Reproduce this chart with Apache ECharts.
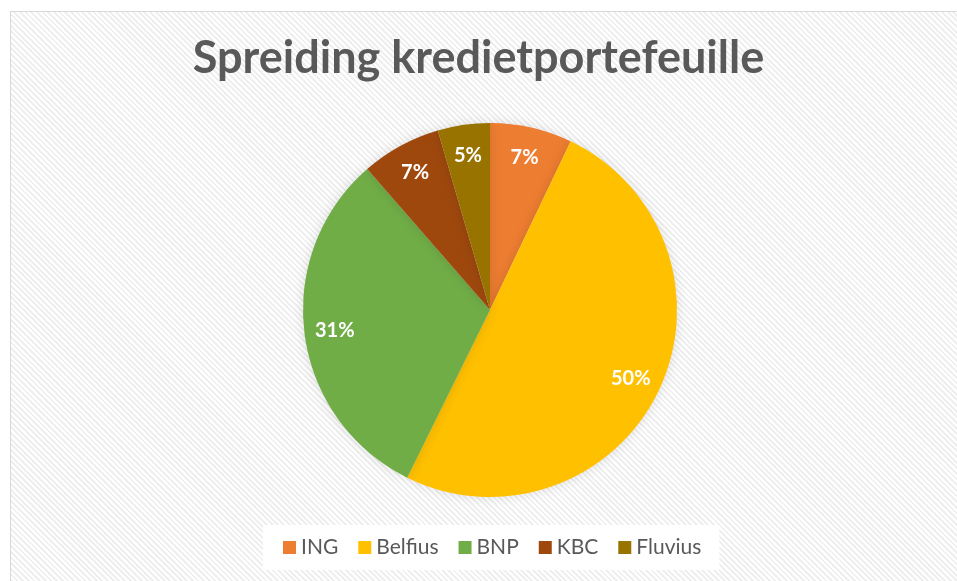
<!DOCTYPE html>
<html>
<head>
<meta charset="utf-8">
<script src="https://cdn.jsdelivr.net/npm/echarts@6/dist/echarts.min.js"></script>
<style>
  html, body { margin: 0; padding: 0; background: #fff; }
  #frame {
    position: absolute; left: 10px; top: 11px; width: 960px; height: 580px;
    border: 1px solid #d9d9d9; box-sizing: border-box;
    background: repeating-linear-gradient(45deg, #ffffff 0px, #ffffff 2px, #efefef 2px, #efefef 4px);
  }
  #chart { position: absolute; left: 0; top: 0; width: 957px; height: 581px; }
</style>
</head>
<body>
<div id="frame"></div>
<div id="chart"></div>
<script>
var categories = ["ING", "Belfius", "BNP", "KBC", "Fluvius"];
var values = [7.1, 50.2, 31.3, 6.9, 4.5];
var colors = ["#ED7D31", "#FFC000", "#70AD47", "#9E480E", "#997300"];

var pieData = categories.map(function (name, i) {
  return { name: name, value: values[i], itemStyle: { color: colors[i] } };
});

var chart = echarts.init(document.getElementById("chart"));
chart.setOption({
  backgroundColor: "transparent",
  title: {
    text: "Spreiding kredietportefeuille",
    left: "center",
    top: 31,
    textStyle: {
      fontFamily: "Lato",
      fontWeight: "bold",
      fontSize: 45,
      color: "#595959",
    },
  },
  legend: {
    data: categories,
    top: 525,
    left: 263,
    backgroundColor: "#ffffff",
    padding: [12, 18, 12, 20],
    itemWidth: 13,
    itemHeight: 13,
    itemGap: 20,
    icon: "rect",
    textStyle: {
      fontFamily: "Lato",
      fontSize: 21,
      color: "#595959",
    },
  },
  series: [
    {
      name: "krediet",
      type: "pie",
      center: [490, 310],
      radius: [0, 187],
      startAngle: 90,
      clockwise: true,
      silent: true,
      data: pieData,
      label: { show: false },
      labelLine: { show: false },
      itemStyle: {
        shadowBlur: 12,
        shadowColor: "rgba(0,0,0,0.12)",
      },
    },
    {
      name: "labels",
      type: "pie",
      center: [490, 310],
      radius: [120, 187],
      startAngle: 90,
      clockwise: true,
      silent: true,
      data: pieData.map(function (d) {
        return { name: d.name, value: d.value, itemStyle: { color: "transparent" } };
      }),
      label: {
        show: true,
        position: "inside",
        formatter: "{d}%",
        fontFamily: "Lato",
        fontWeight: "bold",
        fontSize: 20,
        color: "#ffffff",
      },
      percentPrecision: 0,
      labelLine: { show: false },
    },
  ],
});
</script>
</body>
</html>
